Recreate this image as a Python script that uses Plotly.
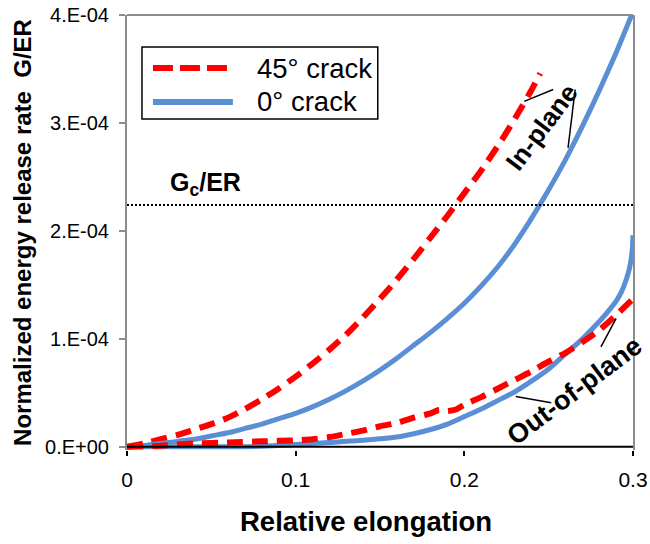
import plotly.graph_objects as go

# ---- data: normalized energy release rate G/ER vs relative elongation ----
# 45 deg crack, in-plane
elong_45_in = [0.0, 0.01, 0.02, 0.03, 0.04, 0.05, 0.06, 0.07, 0.08, 0.09, 0.10,
               0.11, 0.12, 0.13, 0.14, 0.15, 0.16, 0.17, 0.18, 0.19, 0.20,
               0.21, 0.22, 0.23, 0.24, 0.245]
g_45_in = [0.0, 0.03e-4, 0.07e-4, 0.11e-4, 0.16e-4, 0.21e-4, 0.27e-4, 0.35e-4,
           0.44e-4, 0.54e-4, 0.65e-4, 0.77e-4, 0.90e-4, 1.04e-4, 1.20e-4,
           1.37e-4, 1.55e-4, 1.74e-4, 1.94e-4, 2.14e-4, 2.35e-4, 2.56e-4,
           2.79e-4, 3.04e-4, 3.31e-4, 3.46e-4]

# 45 deg crack, out-of-plane
elong_45_out = [0.0, 0.02, 0.04, 0.06, 0.08, 0.10, 0.11, 0.12, 0.13, 0.14, 0.15,
                0.16, 0.17, 0.18, 0.185, 0.19, 0.195, 0.20, 0.21, 0.22, 0.23,
                0.24, 0.25, 0.26, 0.27, 0.28, 0.29, 0.30]
g_45_out = [0.0, 0.01e-4, 0.03e-4, 0.04e-4, 0.05e-4, 0.06e-4, 0.07e-4, 0.09e-4,
            0.12e-4, 0.15e-4, 0.19e-4, 0.22e-4, 0.27e-4, 0.31e-4, 0.34e-4,
            0.33e-4, 0.345e-4, 0.39e-4, 0.46e-4, 0.54e-4, 0.62e-4, 0.70e-4,
            0.79e-4, 0.87e-4, 0.97e-4, 1.08e-4, 1.22e-4, 1.37e-4]

# 0 deg crack, in-plane
elong_0_in = [0.0, 0.01, 0.02, 0.03, 0.04, 0.05, 0.06, 0.07, 0.08, 0.09, 0.10,
              0.11, 0.12, 0.13, 0.14, 0.15, 0.16, 0.17, 0.18, 0.19, 0.20,
              0.21, 0.22, 0.23, 0.24, 0.25, 0.26, 0.27, 0.28, 0.29, 0.295, 0.30]
g_0_in = [0.0, 0.01e-4, 0.03e-4, 0.05e-4, 0.07e-4, 0.10e-4, 0.13e-4, 0.17e-4,
          0.21e-4, 0.26e-4, 0.31e-4, 0.37e-4, 0.44e-4, 0.52e-4, 0.61e-4,
          0.71e-4, 0.82e-4, 0.94e-4, 1.06e-4, 1.19e-4, 1.33e-4, 1.49e-4,
          1.67e-4, 1.88e-4, 2.12e-4, 2.38e-4, 2.66e-4, 2.97e-4, 3.30e-4,
          3.65e-4, 3.84e-4, 4.03e-4]

# 0 deg crack, out-of-plane
elong_0_out = [0.0, 0.02, 0.04, 0.06, 0.08, 0.10, 0.12, 0.14, 0.16, 0.17, 0.18,
               0.19, 0.20, 0.21, 0.22, 0.23, 0.24, 0.25, 0.26, 0.27, 0.28,
               0.285, 0.29, 0.293, 0.296, 0.298, 0.299, 0.2997, 0.30]
g_0_out = [0.0, 0.0, 0.0, 0.0, 0.005e-4, 0.02e-4, 0.04e-4, 0.06e-4, 0.09e-4,
           0.12e-4, 0.16e-4, 0.21e-4, 0.28e-4, 0.35e-4, 0.43e-4, 0.51e-4,
           0.61e-4, 0.72e-4, 0.86e-4, 1.00e-4, 1.16e-4, 1.25e-4, 1.35e-4,
           1.43e-4, 1.55e-4, 1.66e-4, 1.75e-4, 1.85e-4, 1.96e-4]

# critical value Gc/ER
gc_level = 2.24e-4

x_ticks = [0.0, 0.1, 0.2, 0.3]
x_tick_text = ["0", "0.1", "0.2", "0.3"]
y_ticks = [0.0, 1e-4, 2e-4, 3e-4, 4e-4]
y_tick_text = ["0.E+00", "1.E-04", "2.E-04", "3.E-04", "4.E-04"]

RED = "#FF0000"
BLUE = "#5A8ED5"
FONT = "Liberation Sans, Arial, sans-serif"

fig = go.Figure()

red_line = dict(color=RED, width=6, dash="16px,9px", shape="spline", smoothing=0.6)
blue_line = dict(color=BLUE, width=5, shape="spline", smoothing=0.6)

fig.add_trace(go.Scatter(x=elong_45_in, y=g_45_in, mode="lines", line=red_line,
                         name="45\u00b0 crack", showlegend=False))
fig.add_trace(go.Scatter(x=elong_0_in, y=g_0_in, mode="lines", line=blue_line,
                         name="0\u00b0 crack", showlegend=False))
fig.add_trace(go.Scatter(x=elong_0_out, y=g_0_out, mode="lines", line=blue_line,
                         name="0\u00b0 crack", showlegend=False))
fig.add_trace(go.Scatter(x=elong_45_out, y=g_45_out, mode="lines", line=red_line,
                         name="45\u00b0 crack", showlegend=False))

# Gc/ER threshold
fig.add_trace(go.Scatter(x=[0.0, 0.3], y=[gc_level, gc_level], mode="lines",
                         line=dict(color="black", width=2, dash="2px,2px"),
                         showlegend=False, hoverinfo="skip"))

# legend box geometry (paper coordinates)
LEG_X0, LEG_X1, LEG_Y0, LEG_Y1 = 0.0296, 0.4956, 0.761, 0.9264
SAMPLE_X0, SAMPLE_X1, LABEL_X = 0.0513, 0.2093, 0.2527
ROW_Y = [0.878, 0.800]

shapes = [
    # x-axis baseline at G/ER = 0
    dict(type="line", xref="x", yref="y", x0=0, x1=0.3, y0=0, y1=0,
         line=dict(color="black", width=2)),
    # top frame edge
    dict(type="line", xref="paper", yref="paper", x0=0, x1=1, y0=1, y1=1,
         line=dict(color="#8C8C8C", width=2)),
    # leader lines for the "In-plane" label
    dict(type="line", xref="x", yref="y", x0=0.2355, y0=3.20e-4, x1=0.2527, y1=3.31e-4,
         line=dict(color="black", width=1.5)),
    dict(type="line", xref="x", yref="y", x0=0.2657, y0=3.31e-4, x1=0.2615, y1=2.77e-4,
         line=dict(color="black", width=1.5)),
    # leader lines for the "Out-of-plane" label
    dict(type="line", xref="x", yref="y", x0=0.2305, y0=0.465e-4, x1=0.2515, y1=0.407e-4,
         line=dict(color="black", width=1.5)),
    dict(type="line", xref="x", yref="y", x0=0.290, y0=1.19e-4, x1=0.281, y1=0.926e-4,
         line=dict(color="black", width=1.5)),
    # legend frame and samples
    dict(type="rect", xref="paper", yref="paper", x0=LEG_X0, x1=LEG_X1, y0=LEG_Y0, y1=LEG_Y1,
         line=dict(color="black", width=1.5), fillcolor="white"),
    dict(type="line", xref="paper", yref="paper", x0=SAMPLE_X0, x1=SAMPLE_X1,
         y0=ROW_Y[0], y1=ROW_Y[0], line=dict(color=RED, width=6, dash="20px,7px")),
    dict(type="line", xref="paper", yref="paper", x0=SAMPLE_X0, x1=SAMPLE_X1,
         y0=ROW_Y[1], y1=ROW_Y[1], line=dict(color=BLUE, width=6)),
]

annotations = [
    dict(x=0.0243, y=2.43e-4, xref="x", yref="y", xanchor="left", yanchor="middle",
         text="<b>G<sub>c</sub>/ER</b>", showarrow=False,
         font=dict(family=FONT, size=25, color="black")),
    dict(x=0.246, y=2.96e-4, xref="x", yref="y", xanchor="center", yanchor="middle",
         text="<b>In-plane</b>", textangle=-53, showarrow=False,
         font=dict(family=FONT, size=26, color="black")),
    dict(x=0.265, y=0.52e-4, xref="x", yref="y", xanchor="center", yanchor="middle",
         text="<b>Out-of-plane</b>", textangle=-37, showarrow=False,
         font=dict(family=FONT, size=27, color="black")),
    dict(x=0.473, y=-0.1655, xref="paper", yref="paper", xanchor="center", yanchor="middle",
         text="<b>Relative elongation</b>", showarrow=False,
         font=dict(family=FONT, size=27.5, color="black")),
    dict(x=LABEL_X, y=ROW_Y[0], xref="paper", yref="paper", xanchor="left", yanchor="middle",
         text="45\u00b0 crack", showarrow=False,
         font=dict(family=FONT, size=27.5, color="black")),
    dict(x=LABEL_X, y=ROW_Y[1], xref="paper", yref="paper", xanchor="left", yanchor="middle",
         text="0\u00b0 crack", showarrow=False,
         font=dict(family=FONT, size=27.5, color="black")),
]

fig.update_layout(
    width=650, height=544,
    margin=dict(l=127, r=16.5, t=15, b=94),
    paper_bgcolor="white", plot_bgcolor="white",
    font=dict(family=FONT, color="black"),
    showlegend=False,
    shapes=shapes,
    annotations=annotations,
    xaxis=dict(range=[0, 0.3], tickvals=x_ticks, ticktext=x_tick_text,
               automargin=False,
               showline=False, showgrid=False, zeroline=False,
               ticks="outside", ticklen=5, tickwidth=1.5, tickcolor="black",
               tickfont=dict(family=FONT, size=21, color="black"),
               ticklabelstandoff=6),
    yaxis=dict(range=[-0.03e-4, 4e-4], tickvals=y_ticks, ticktext=y_tick_text,
               automargin=False,
               showline=True, linecolor="#8C8C8C", linewidth=2, mirror=True,
               showgrid=False, zeroline=False,
               ticks="outside", ticklen=6, tickwidth=1.5, tickcolor="#8C8C8C",
               tickfont=dict(family=FONT, size=20, color="black"),
               ticklabelstandoff=6,
               title=dict(text="<b>Normalized energy release rate  G/ER</b>",
                          font=dict(family=FONT, size=24, color="black"),
                          standoff=7)),
)

fig.write_html("out.html")
